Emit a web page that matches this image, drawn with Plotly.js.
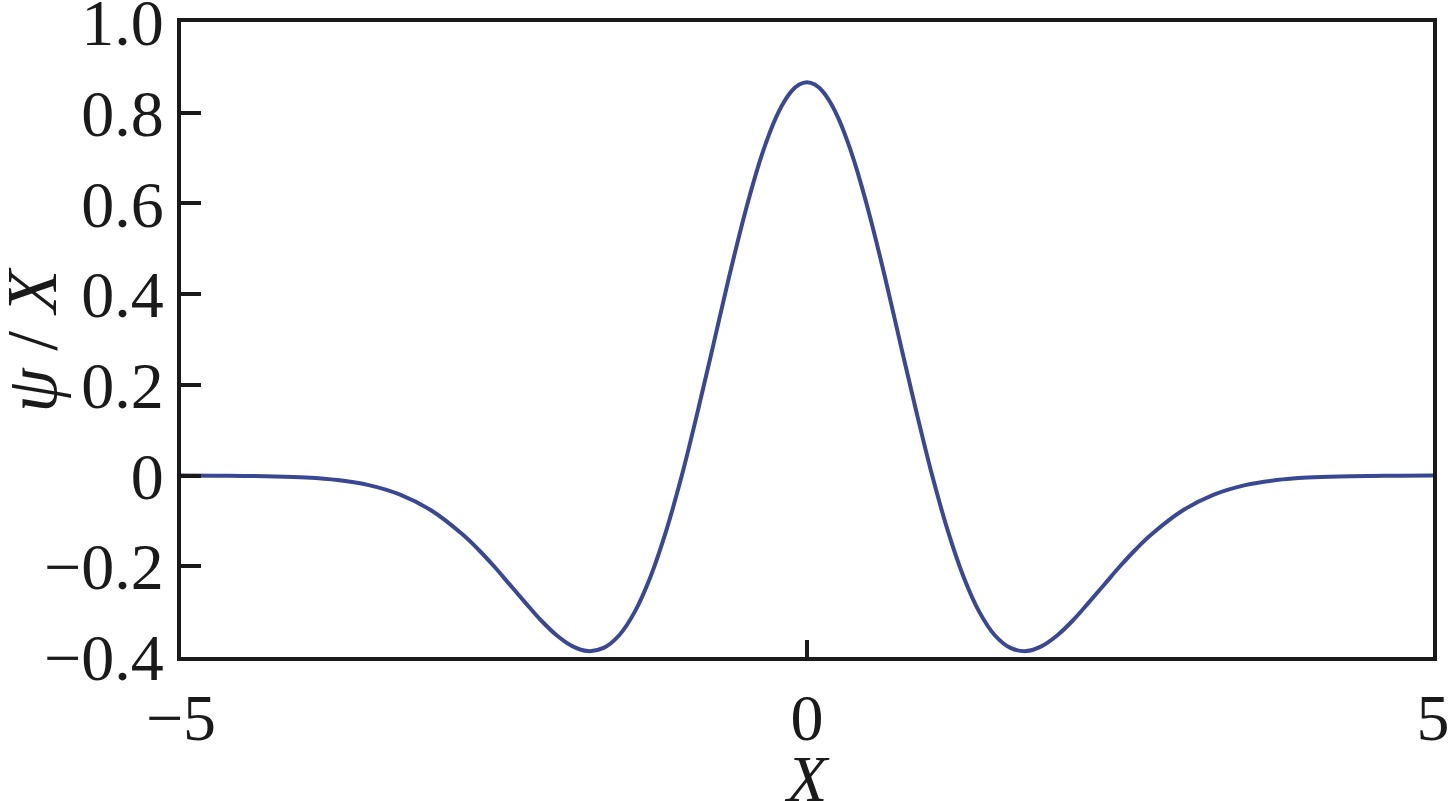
<!DOCTYPE html>
<html>
<head>
<meta charset="utf-8">
<script src="https://cdn.plot.ly/plotly-3.0.1.min.js"></script>
<style>html,body{margin:0;padding:0;background:#fff;}#chart{width:1448px;height:801px;}</style>
</head>
<body>
<div id="chart"></div>
<script>
// Values (wavelet curve psi over X)
const xValues = [-5, -4.75, -4.5, -4.25, -4, -3.75, -3.5, -3.25, -3, -2.75, -2.625, -2.5, -2.375, -2.25, -2.125, -2, -1.875, -1.75, -1.625, -1.5, -1.375, -1.25, -1.125, -1, -0.875, -0.75, -0.625, -0.5, -0.4375, -0.375, -0.3125, -0.25, -0.1875, -0.125, -0.0625,
  0, 0.0625, 0.125, 0.1875, 0.25, 0.3125, 0.375, 0.4375, 0.5, 0.625, 0.75, 0.875, 1, 1.125, 1.25, 1.375, 1.5, 1.625, 1.75, 1.875, 2, 2.125, 2.25, 2.375, 2.5, 2.625, 2.75, 3, 3.25, 3.5, 3.75, 4, 4.25, 4.5, 4.75, 5];
const psiValues = [0, -0.0002, -0.0007, -0.0018, -0.0044, -0.010, -0.021, -0.042, -0.077, -0.130, -0.163, -0.200, -0.240, -0.280, -0.319, -0.352, -0.376, -0.387, -0.380, -0.352, -0.300, -0.223, -0.122, 0, 0.139, 0.286, 0.435, 0.574, 0.637, 0.695, 0.745, 0.788, 0.822, 0.847, 0.862,
  0.867, 0.862, 0.847, 0.822, 0.788, 0.745, 0.695, 0.637, 0.574, 0.435, 0.286, 0.139, 0, -0.122, -0.223, -0.300, -0.352, -0.380, -0.387, -0.376, -0.352, -0.319, -0.280, -0.240, -0.200, -0.163, -0.130, -0.077, -0.042, -0.021, -0.010, -0.0044, -0.0018, -0.0007, -0.0002, 0];
const xTickVals = [-5, 0, 5];
const xTickText = ['\u22125', '0', '5'];
const yTickVals = [-0.4, -0.2, 0, 0.2, 0.4, 0.6, 0.8, 1.0];
const yTickText = ['\u22120.4', '\u22120.2', '0', '0.2', '0.4', '0.6', '0.8', '1.0'];

const serif = '"Liberation Serif", "Times New Roman", Times, serif';

const trace = {
  x: xValues, y: psiValues, type: 'scatter', mode: 'lines',
  line: {color: '#3A4893', width: 4, shape: 'spline', smoothing: 1},
  hoverinfo: 'skip'
};

const layout = {
  width: 1448, height: 801,
  margin: {l: 181, r: 15, t: 22, b: 144, pad: 0},
  paper_bgcolor: '#ffffff', plot_bgcolor: '#ffffff',
  showlegend: false,
  font: {family: serif, color: '#1a1a1a', size: 60},
  xaxis: {
    range: [-5, 5], tickvals: xTickVals, ticktext: xTickText,
    ticks: 'inside', ticklen: 17, tickwidth: 4, tickcolor: '#1a1a1a',
    showline: true, linewidth: 4, linecolor: '#1a1a1a', mirror: true,
    showgrid: false, zeroline: false, ticklabeloverflow: 'allow',
    tickfont: {family: serif, size: 66, color: '#1a1a1a'}
  },
  yaxis: {
    range: [-0.4, 1.0], tickvals: yTickVals, ticktext: yTickText,
    ticks: 'inside', ticklen: 20, tickwidth: 4, tickcolor: '#1a1a1a',
    showline: true, linewidth: 4, linecolor: '#1a1a1a', mirror: true,
    showgrid: false, zeroline: false, ticklabeloverflow: 'allow',
    tickfont: {family: serif, size: 66, color: '#1a1a1a'}
  },
  annotations: [
    {text: '<i>X</i>', xref: 'paper', yref: 'paper', x: 0.5, y: 0, yshift: -121,
     showarrow: false, font: {family: serif, size: 66, color: '#1a1a1a'}, xanchor: 'center', yanchor: 'middle'},
    {text: '<i>ψ</i> / <i>X</i>', xref: 'paper', yref: 'paper', x: 0, xshift: -150, y: 0.5, yshift: -1,
     textangle: -90, showarrow: false, font: {family: serif, size: 71, color: '#1a1a1a'}, xanchor: 'center', yanchor: 'middle'}
  ]
};

Plotly.newPlot('chart', [trace], layout, {displayModeBar: false, staticPlot: true});
</script>
</body>
</html>
